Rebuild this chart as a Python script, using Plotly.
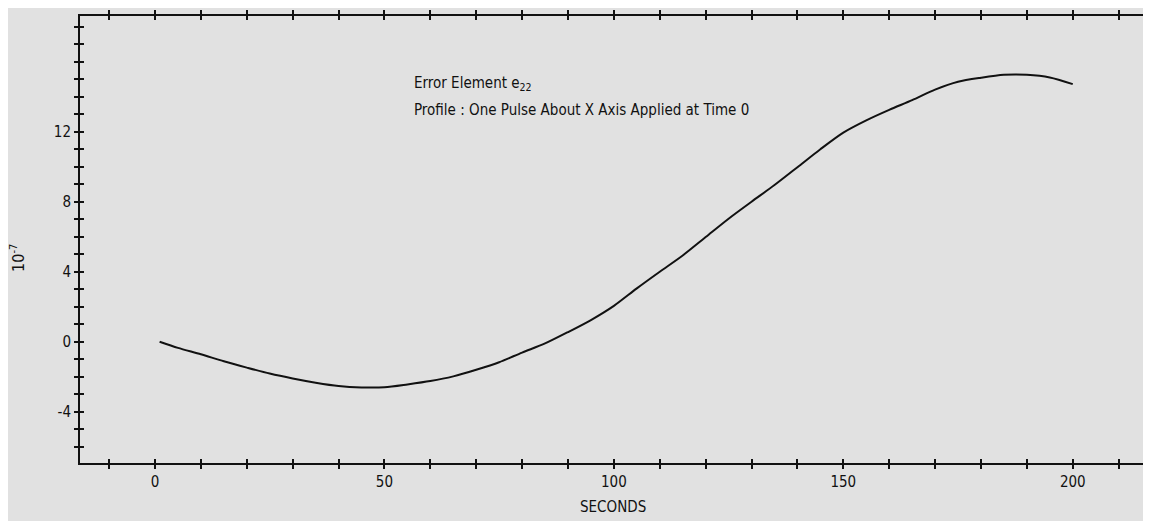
import plotly.graph_objects as go

# Data
seconds = [1, 5, 10, 15, 20, 25, 30, 35, 40, 45, 50, 55, 60, 65, 70, 75, 80, 85, 90, 95,
           100, 105, 110, 115, 120, 125, 130, 135, 140, 145, 150, 155, 160, 165, 170, 175,
           180, 185, 190, 195, 200]
error_e22 = [0.0, -0.35, -0.72, -1.12, -1.48, -1.82, -2.1, -2.34, -2.53, -2.61, -2.6, -2.44,
             -2.25, -1.98, -1.6, -1.17, -0.62, -0.1, 0.55, 1.24, 2.05, 3.05, 4.0, 4.93, 5.98,
             7.03, 8.0, 8.95, 9.97, 11.0, 11.95, 12.65, 13.25, 13.8, 14.4, 14.85, 15.08, 15.25,
             15.25, 15.1, 14.72]

x_ticks = list(range(-10, 220, 10))
x_labels = {0: "0", 50: "50", 100: "100", 150: "150", 200: "200"}
y_ticks = list(range(-6, 19))
y_labels = {-4: "-4", 0: "0", 4: "4", 8: "8", 12: "12"}

x_range = [-16.35, 216.4]
y_range = [-6.93, 18.61]

FONT = "Liberation Sans Narrow, Arial Narrow, DejaVu Sans Condensed, sans-serif"
BG = "#e1e1e1"

fig = go.Figure()
fig.add_trace(go.Scatter(x=seconds, y=error_e22, mode="lines",
                         line=dict(color="#111111", width=2, shape="spline", smoothing=0.8),
                         showlegend=False, hoverinfo="skip"))
# helper trace for the second (inside-tick) axes
fig.add_trace(go.Scatter(x=[None], y=[None], xaxis="x2", yaxis="y2", mode="lines",
                         showlegend=False, hoverinfo="skip"))

common_axis = dict(showgrid=False, zeroline=False, showline=True, linecolor="#111111",
                   linewidth=2, mirror="allticks", tickcolor="#111111", tickwidth=1.5,
                   ticklen=4, automargin=False)

# The page body has an 8px margin, so the figure is offset by 8px
fig.update_layout(
    width=1143, height=513,
    margin=dict(l=72, r=3, t=8, b=58),
    paper_bgcolor=BG, plot_bgcolor=BG,
    font=dict(family=FONT, size=15, color="#111111"),
    xaxis=dict(range=x_range, tickmode="array", tickvals=x_ticks,
               ticktext=[x_labels.get(v, "") for v in x_ticks], ticks="outside",
               tickfont=dict(size=15), **common_axis),
    yaxis=dict(range=y_range, tickmode="array", tickvals=y_ticks,
               ticktext=[y_labels.get(v, "") for v in y_ticks], ticks="outside",
               tickfont=dict(size=15), **common_axis),
    xaxis2=dict(range=x_range, overlaying="x", anchor="y2", tickmode="array",
                tickvals=x_ticks, showticklabels=False, ticks="inside", **common_axis),
    yaxis2=dict(range=y_range, overlaying="y", anchor="x2", tickmode="array",
                tickvals=y_ticks, showticklabels=False, ticks="inside", **common_axis),
)

fig.add_annotation(x=56.0, y=14.73, xref="x", yref="y", xanchor="left", yanchor="middle",
                   text="Error Element e<sub>22</sub>", showarrow=False,
                   font=dict(size=15))
fig.add_annotation(x=56.0, y=13.24, xref="x", yref="y", xanchor="left", yanchor="middle",
                   text="Profile : One Pulse About X Axis Applied at Time 0", showarrow=False,
                   font=dict(size=15))
fig.add_annotation(x=0.499, y=-0.098, xref="paper", yref="paper", xanchor="center",
                   yanchor="middle", text="SECONDS", showarrow=False,
                   font=dict(size=15))
fig.add_annotation(x=-0.058, y=0.459, xref="paper", yref="paper", xanchor="center",
                   yanchor="middle", text="10<sup>-7</sup>", textangle=-90, showarrow=False,
                   font=dict(size=16))

fig.write_html("out.html")
